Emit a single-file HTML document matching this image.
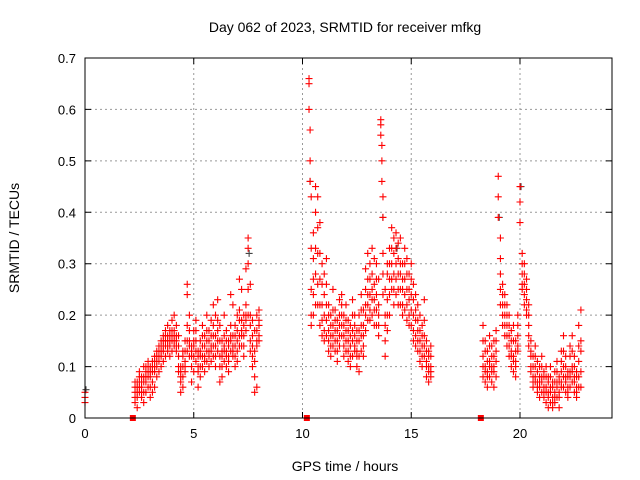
<!DOCTYPE html>
<html><head><meta charset="utf-8">
<style>
html,body{margin:0;padding:0;background:#fff;}
svg{display:block;font-family:"Liberation Sans",sans-serif;}
</style></head>
<body>
<svg id="chart" width="640" height="480" viewBox="0 0 640 480" xmlns="http://www.w3.org/2000/svg">
<rect x="0" y="0" width="640" height="480" fill="#fff"/>
<g id="grid"></g>
<g id="marks"></g>
<rect x="85" y="58" width="527" height="360" fill="none" stroke="#000" stroke-width="1"/>
<g id="ticks"></g>
<text x="345" y="32" font-size="14" text-anchor="middle">Day 062 of 2023, SRMTID for receiver mfkg</text>
<text x="345" y="471" font-size="14" text-anchor="middle">GPS time / hours</text>
<text transform="translate(19,238) rotate(-90)" font-size="14" text-anchor="middle">SRMTID / TECUs</text>
</svg>
<script>
const xTicks = [0, 5, 10, 15, 20];
const yTicks = [0, 0.1, 0.2, 0.3, 0.4, 0.5, 0.6, 0.7];
const yTickLabels = ["0", "0.1", "0.2", "0.3", "0.4", "0.5", "0.6", "0.7"];
const hours = [0,
2.3,2.4,2.5,2.6,2.7,2.8,2.9,3.0,3.1,3.2,3.3,3.4,3.5,3.6,3.7,3.8,3.9,4.0,4.1,4.2,4.3,4.4,4.5,4.6,4.7,4.8,4.9,5.0,5.1,5.2,5.3,5.4,5.5,5.6,5.7,5.8,5.9,6.0,6.1,6.2,6.3,6.4,6.5,6.6,6.7,6.8,6.9,7.0,7.1,7.2,7.3,7.4,7.5,7.6,7.7,7.8,7.9,8.0,
10.3,10.35,10.4,10.5,10.6,10.7,10.8,10.9,11.0,11.1,11.2,11.3,11.4,11.5,11.6,11.7,11.8,11.9,12.0,12.1,12.2,12.3,12.4,12.5,12.6,12.7,12.8,12.9,13.0,13.1,13.2,13.3,13.4,13.5,13.6,13.65,13.7,13.8,13.9,14.0,14.1,14.2,14.3,14.4,14.5,14.6,14.7,14.8,14.9,15.0,15.1,15.2,15.3,15.4,15.5,15.6,15.7,15.8,15.9,
18.3,18.4,18.5,18.6,18.7,18.8,18.9,19.0,19.1,19.2,19.3,19.4,19.5,19.6,19.7,19.8,19.9,20.0,20.1,20.2,20.3,20.4,20.5,20.6,20.7,20.8,20.9,21.0,21.1,21.2,21.3,21.4,21.5,21.6,21.7,21.8,21.9,22.0,22.1,22.2,22.3,22.4,22.5,22.6,22.7,22.8];
const srmtid = [[0.05,0.04,0.03],
[0.05,0.03,0.07,0.06,0.04],[0.06,0.04,0.02,0.05,0.07],[0.07,0.05,0.09,0.06,0.08],[0.04,0.06,0.08,0.07,0.05],[0.08,0.05,0.03,0.07,0.1],[0.1,0.07,0.05,0.08,0.09],[0.09,0.06,0.11,0.08,0.1],[0.08,0.04,0.1,0.06,0.09],[0.11,0.07,0.05,0.09,0.1],[0.12,0.09,0.06,0.1,0.11],[0.1,0.13,0.08,0.12,0.11],[0.14,0.11,0.09,0.13,0.12],[0.15,0.12,0.1,0.14,0.13],[0.13,0.16,0.11,0.15,0.14],[0.17,0.14,0.12,0.16,0.15],[0.15,0.13,0.18,0.16,0.14],[0.16,0.14,0.12,0.15,0.17],[0.19,0.15,0.13,0.17,0.16],[0.17,0.14,0.2,0.16,0.15],[0.18,0.15,0.13,0.16,0.14],[0.16,0.12,0.09,0.14,0.1],[0.1,0.07,0.05,0.09,0.08],[0.13,0.08,0.06,0.1,0.12],[0.11,0.09,0.15,0.13,0.1],[0.26,0.24,0.18,0.15,0.13],[0.2,0.15,0.12,0.14,0.17],[0.14,0.1,0.07,0.12,0.13],[0.17,0.12,0.09,0.14,0.15],[0.19,0.15,0.11,0.13,0.17],[0.13,0.1,0.06,0.12,0.09],[0.12,0.08,0.15,0.1,0.13],[0.14,0.1,0.18,0.12,0.16],[0.16,0.12,0.09,0.14,0.11],[0.2,0.15,0.11,0.13,0.17],[0.17,0.13,0.1,0.15,0.12],[0.19,0.14,0.11,0.16,0.13],[0.22,0.16,0.12,0.18,0.14],[0.2,0.14,0.1,0.16,0.12],[0.23,0.17,0.13,0.19,0.15],[0.18,0.12,0.07,0.15,0.1],[0.15,0.1,0.08,0.13,0.12],[0.2,0.14,0.11,0.16,0.13],[0.17,0.13,0.1,0.15,0.12],[0.15,0.12,0.09,0.14,0.11],[0.24,0.18,0.13,0.15,0.16],[0.22,0.16,0.12,0.14,0.13],[0.18,0.14,0.1,0.16,0.12],[0.2,0.15,0.11,0.13,0.17],[0.27,0.21,0.16,0.19,0.14],[0.25,0.19,0.14,0.17,0.16],[0.2,0.16,0.12,0.18,0.14],[0.29,0.22,0.17,0.2,0.19],[0.35,0.33,0.3,0.25,0.2],[0.26,0.2,0.15,0.18,0.13],[0.19,0.14,0.1,0.16,0.12],[0.17,0.08,0.05,0.13,0.11],[0.2,0.15,0.06,0.17,0.14],[0.21,0.18,0.16,0.19,0.15],
[0.66,0.65,0.6],[0.56,0.5,0.46],[0.43,0.33,0.2,0.25,0.18],[0.36,0.31,0.24,0.2,0.27],[0.45,0.4,0.28,0.33,0.22],[0.43,0.32,0.22,0.37,0.26],[0.38,0.27,0.18,0.32,0.22],[0.3,0.22,0.16,0.26,0.19],[0.28,0.2,0.15,0.24,0.17],[0.31,0.26,0.19,0.22,0.16],[0.22,0.17,0.13,0.2,0.15],[0.2,0.16,0.12,0.18,0.14],[0.25,0.18,0.14,0.21,0.16],[0.21,0.17,0.13,0.19,0.15],[0.19,0.15,0.11,0.17,0.13],[0.23,0.18,0.14,0.2,0.16],[0.24,0.2,0.16,0.22,0.18],[0.2,0.16,0.12,0.18,0.14],[0.22,0.17,0.13,0.19,0.15],[0.19,0.15,0.11,0.17,0.13],[0.18,0.14,0.1,0.16,0.12],[0.23,0.17,0.12,0.2,0.15],[0.2,0.16,0.13,0.18,0.14],[0.17,0.13,0.1,0.15,0.12],[0.2,0.15,0.09,0.17,0.12],[0.24,0.18,0.13,0.21,0.16],[0.21,0.16,0.12,0.18,0.14],[0.29,0.25,0.2,0.22,0.17],[0.32,0.27,0.22,0.24,0.19],[0.3,0.24,0.19,0.27,0.21],[0.33,0.28,0.23,0.25,0.2],[0.31,0.26,0.21,0.23,0.18],[0.3,0.24,0.18,0.27,0.21],[0.27,0.22,0.16,0.2,0.18],[0.58,0.57,0.55],[0.53,0.5,0.46],[0.43,0.39,0.32,0.28,0.24],[0.2,0.15,0.12,0.25,0.18],[0.28,0.23,0.17,0.3,0.2],[0.33,0.27,0.2,0.3,0.24],[0.37,0.3,0.25,0.33,0.27],[0.35,0.28,0.22,0.32,0.25],[0.36,0.3,0.24,0.33,0.27],[0.34,0.28,0.22,0.31,0.25],[0.35,0.28,0.22,0.3,0.25],[0.3,0.25,0.2,0.27,0.22],[0.33,0.27,0.21,0.3,0.24],[0.31,0.25,0.19,0.28,0.22],[0.28,0.23,0.18,0.25,0.2],[0.3,0.24,0.18,0.27,0.21],[0.26,0.2,0.15,0.23,0.17],[0.24,0.19,0.14,0.21,0.16],[0.22,0.17,0.13,0.19,0.15],[0.2,0.15,0.11,0.17,0.13],[0.18,0.14,0.1,0.16,0.12],[0.23,0.16,0.12,0.19,0.14],[0.15,0.11,0.08,0.13,0.1],[0.13,0.1,0.07,0.12,0.09],[0.14,0.1,0.08,0.12,0.09],
[0.18,0.12,0.08,0.15,0.1],[0.15,0.1,0.07,0.13,0.09],[0.13,0.09,0.06,0.11,0.08],[0.16,0.11,0.08,0.14,0.1],[0.14,0.1,0.07,0.12,0.09],[0.12,0.09,0.06,0.15,0.1],[0.15,0.11,0.08,0.13,0.17],[0.47,0.43,0.39],[0.35,0.31,0.28,0.25,0.22],[0.26,0.22,0.18,0.24,0.2],[0.24,0.2,0.16,0.22,0.18],[0.22,0.18,0.14,0.2,0.16],[0.2,0.16,0.12,0.18,0.14],[0.17,0.13,0.1,0.15,0.12],[0.18,0.12,0.09,0.15,0.11],[0.15,0.11,0.08,0.13,0.1],[0.2,0.16,0.13,0.18,0.14],[0.45,0.42,0.38],[0.32,0.28,0.25,0.3,0.26],[0.3,0.26,0.22,0.28,0.24],[0.27,0.23,0.2,0.25,0.21],[0.22,0.18,0.14,0.2,0.16],[0.15,0.12,0.09,0.13,0.1],[0.12,0.08,0.06,0.1,0.07],[0.14,0.1,0.07,0.12,0.08],[0.11,0.07,0.05,0.09,0.06],[0.1,0.07,0.04,0.08,0.06],[0.12,0.08,0.05,0.1,0.07],[0.09,0.06,0.04,0.08,0.05],[0.1,0.06,0.03,0.08,0.05],[0.08,0.05,0.02,0.07,0.04],[0.1,0.06,0.03,0.08,0.05],[0.07,0.04,0.02,0.06,0.03],[0.09,0.05,0.03,0.07,0.04],[0.11,0.07,0.04,0.09,0.06],[0.08,0.05,0.02,0.07,0.04],[0.13,0.09,0.06,0.11,0.07],[0.16,0.1,0.06,0.13,0.08],[0.12,0.08,0.05,0.1,0.07],[0.09,0.06,0.04,0.08,0.05],[0.14,0.09,0.06,0.12,0.08],[0.16,0.1,0.07,0.13,0.09],[0.12,0.08,0.05,0.1,0.07],[0.09,0.06,0.04,0.08,0.05],[0.18,0.14,0.08,0.11,0.06],[0.21,0.15,0.06,0.13,0.09]];
const grayHours = [0, 10.3, 13.65, 19.0, 20.0, 7.5, 14.3];
const grayValues = [0.055, 0.46, 0.39, 0.39, 0.45, 0.32, 0.33];
const zeroHours = [2.2, 10.2, 18.2];

const X0 = 85, X1 = 612, Y0 = 418, Y1 = 58, XMAX = 24.23, YMAX = 0.7;
const xs = h => X0 + h / XMAX * (X1 - X0);
const ys = v => Y0 - v / YMAX * (Y0 - Y1);
const NS = "http://www.w3.org/2000/svg";
const grid = document.getElementById('grid');
const ticks = document.getElementById('ticks');
const marks = document.getElementById('marks');
function mk(tag, attrs, parent) {
  const e = document.createElementNS(NS, tag);
  for (const k in attrs) e.setAttribute(k, attrs[k]);
  parent.appendChild(e);
  return e;
}
xTicks.forEach(t => {
  const x = xs(t);
  if (t > 0) {
    const g = mk('line', {x1: x, x2: x, y1: Y1, y2: Y0, stroke: '#999', 'stroke-dasharray': '2,3'}, grid);
    
    
  }
  const tk = mk('path', {d: `M${x},${Y0}v-6M${x},${Y1}v6`, stroke: '#000'}, ticks);
  
  
  const lb = mk('text', {x: x, y: Y0 + 20, 'font-size': 13, 'text-anchor': 'middle'}, ticks);
  lb.textContent = String(t);
  
  
});
yTicks.forEach((t, i) => {
  const y = ys(t);
  if (t > 0 && t < YMAX) {
    const g = mk('line', {x1: X0, x2: X1, y1: y, y2: y, stroke: '#999', 'stroke-dasharray': '2,3'}, grid);
    
    
  }
  const tk = mk('path', {d: `M${X0},${y}h6M${X1},${y}h-6`, stroke: '#000'}, ticks);
  
  
  const lb = mk('text', {x: X0 - 9, y: y + 5, 'font-size': 13, 'text-anchor': 'end'}, ticks);
  lb.textContent = yTickLabels[i];
  
  
});
function plus(x, y, color) {
  const p = mk('path', {d: `M${x - 3.5},${y}h7M${x},${y - 3.5}v7`, stroke: color, 'stroke-width': 1.1}, marks);
  return p;
}
grayHours.forEach((h, i) => {
  const p = plus(xs(h) + 1, ys(grayValues[i]), '#444');
  
  
});
hours.forEach((h, i) => {
  srmtid[i].forEach(v => {
    const p = plus(xs(h), ys(v), '#f00');
    
    
  });
});
zeroHours.forEach(h => {
  const r = mk('rect', {x: xs(h) - 3, y: ys(0) - 3, width: 6, height: 6, fill: '#f00'}, marks);
  
  
});
</script>
</body></html>
